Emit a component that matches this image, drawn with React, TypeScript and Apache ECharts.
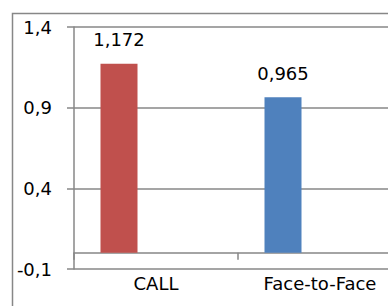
import React, { useEffect, useRef } from "react";
import * as echarts from "echarts";

const categories = ["CALL", "Face-to-Face"];
const values = [1.172, 0.965];
const barColors = ["#C0504D", "#4F81BD"];
const yTicks = { min: -0.1, max: 1.4, interval: 0.5 };

const FONT = "DejaVu Sans";
const GRAY = "#878787";

export default function App() {
  const ref = useRef<HTMLDivElement>(null);
  useEffect(() => {
    if (!ref.current) return;
    document.body.style.overflow = "hidden";
    const chart = echarts.init(ref.current, null, { renderer: "svg" });
    const fmt = (v: number, d: number) => v.toFixed(d).replace(".", ",");
    chart.setOption({
      animation: false,
      backgroundColor: "#ffffff",
      textStyle: { fontFamily: FONT },
      graphic: [
        {
          type: "rect",
          shape: { x: 12.5, y: 13.5, width: 420, height: 320 },
          style: { fill: "none", stroke: GRAY, lineWidth: 1.5 },
          silent: true,
        },
      ],
      grid: { left: 74, top: 27, width: 328, height: 242, containLabel: false },
      xAxis: {
        type: "category",
        data: categories,
        axisLine: { onZero: true, lineStyle: { color: GRAY, width: 1.5 } },
        axisTick: { show: true, length: 7, alignWithLabel: false, lineStyle: { color: GRAY, width: 1.5 } },
        axisLabel: { color: "#000", fontSize: 18, fontFamily: FONT, margin: 5 },
        splitLine: { show: false },
      },
      yAxis: {
        type: "value",
        min: yTicks.min,
        max: yTicks.max,
        interval: yTicks.interval,
        axisLine: { show: true, lineStyle: { color: GRAY, width: 1.5 } },
        axisTick: { show: true, length: 7, lineStyle: { color: GRAY, width: 1.5 } },
        axisLabel: {
          color: "#000",
          fontSize: 18,
          fontFamily: FONT,
          margin: 22,
          formatter: (v: number) => fmt(v, 1),
        },
        splitLine: { show: true, lineStyle: { color: GRAY, width: 1.5 } },
      },
      series: [
        {
          type: "bar",
          barWidth: 37,
          barGap: "0%",
          data: values.map((v, i) => ({ value: v, itemStyle: { color: barColors[i] } })),
          label: {
            show: true,
            position: "top",
            distance: 15,
            color: "#000",
            fontSize: 18,
            fontFamily: FONT,
            formatter: (p: any) => fmt(p.value, 3),
          },
        },
        { type: "bar", barWidth: 37, barGap: "0%", data: [null, null] },
        { type: "bar", barWidth: 37, barGap: "0%", data: [null, null] },
      ],
    });
    return () => chart.dispose();
  }, []);
  return (
    <div
      ref={ref}
      style={{ position: "fixed", left: 0, top: 0, width: 430, height: 340 }}
    />
  );
}
